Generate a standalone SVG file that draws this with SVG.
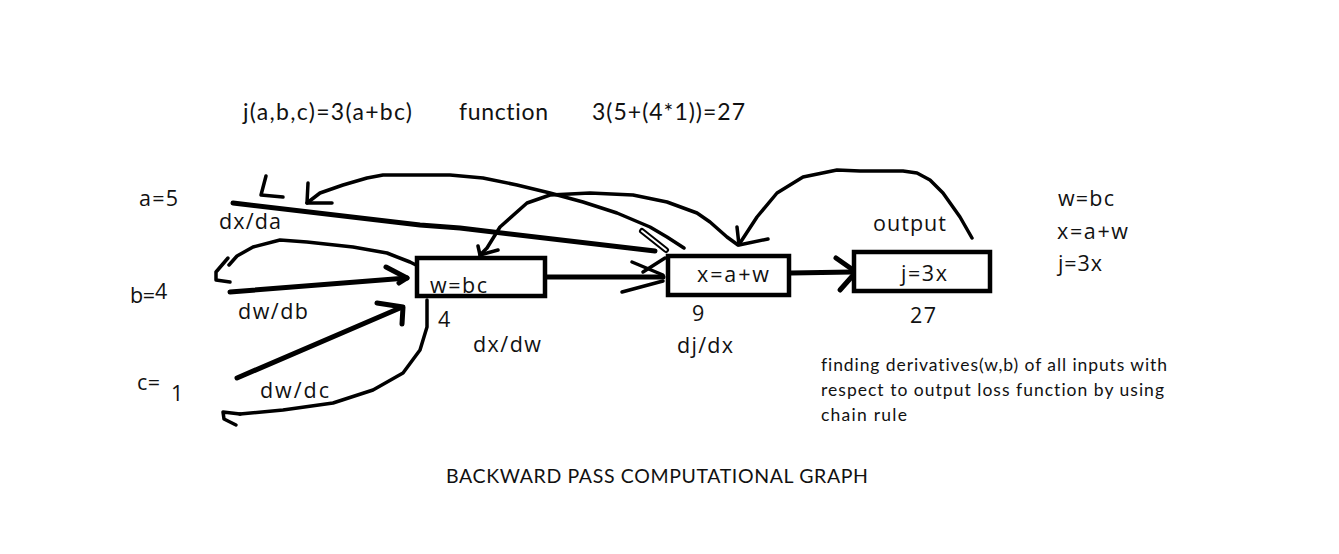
<svg xmlns="http://www.w3.org/2000/svg" width="1339" height="554" viewBox="0 0 1339 554">
<style>
.bg{fill:#ffffff}
.seg{font-family:"Open Sans","Noto Sans",sans-serif;font-size:21.5px;fill:#111}
.cal{font-family:Lato,"Open Sans",sans-serif;fill:#111;font-variant-ligatures:none}
.box{fill:#ffffff;stroke:#000;stroke-width:4.5}
.ln{fill:none;stroke:#000;stroke-width:5;stroke-linecap:round;stroke-linejoin:round}
.arc{fill:none;stroke:#000;stroke-width:3.5;stroke-linecap:round;stroke-linejoin:round}
</style>
<rect class="bg" x="0" y="0" width="1339" height="554"/>

<g id="header">
<text class="cal" x="243" y="120" font-size="23" textLength="169">j(a,b,c)=3(a+bc)</text>
<text class="cal" x="459" y="120" font-size="23" textLength="89">function</text>
<text class="cal" x="592" y="120" font-size="23" textLength="153">3(5+(4*1))=27</text>
</g>

<g id="connectors">
<!-- forward a -> x -->
<path class="ln" d="M233,203 L420,225 L460,228 L655,251"/>
<path class="arc" d="M266,176 L261,195 L283,197"/>
<!-- forward b -> w -->
<path class="ln" d="M230,292 L407,278"/>
<path class="ln" d="M386,267 L407,278 L399,283"/>
<!-- forward c -> w -->
<path class="ln" d="M237,378 L400,308"/>
<path class="ln" d="M377,303 L403,307 L402,324"/>
<!-- forward w -> x -->
<path class="ln" d="M545,277 L663,277"/>
<path class="arc" d="M632,262 L663,275"/>
<path class="arc" d="M622,292 L663,281"/>
<path class="arc" d="M643,272 L665,258"/>
<path d="M642,231 L666,250" fill="none" stroke="#000" stroke-width="6" stroke-linecap="round"/>
<path d="M642,231 L666,250" fill="none" stroke="#fff" stroke-width="2" stroke-linecap="round"/>
<!-- forward x -> j -->
<path class="ln" d="M791,273 L852,272"/>
<path class="ln" d="M836,258 L856,272 L840,290"/>
<!-- backward j -> x -->
<path class="arc" d="M972,238 L960,217 L943,193 L930,180 L917,173 L903,171 L860,171 L837,170 L803,177 L777,193 L757,217 L740,243"/>
<path class="arc" d="M737,227 L739,245 L768,239"/>
<!-- backward x -> w -->
<path class="arc" d="M738,245 L727,237 L710,222 L697,213 L667,202 L633,195 L590,193 L550,195 L527,203 L500,227 L487,248 L480,255"/>
<path class="arc" d="M478,246 L480,255 L498,250"/>
<!-- backward x -> a -->
<path class="arc" d="M684,248 L667,237 L650,227 L617,213 L583,202 L550,193 L517,185 L483,178 L450,175 L383,175 L367,178 L343,185 L320,193 L307,203"/>
<path class="arc" d="M308,183 L307,203 L332,203"/>
<!-- backward w -> b -->
<path class="arc" d="M418,266 L410,262 L387,253 L353,247 L307,242 L280,240 L253,247 L237,256 L229,265"/>
<path class="arc" d="M228,258 L216,272 L216,280 L230,282"/>
<!-- backward w -> c -->
<path class="arc" d="M427,300 L427,327 L420,350 L403,373 L373,390 L333,403 L283,410 L240,414"/>
<path class="arc" d="M240,414 L223,412 L224,419 L236,425"/>
</g>

<g id="node-a">
<text class="seg" x="139" y="206" textLength="39">a=5</text>
</g>
<g id="node-b">
<text class="seg" x="130" y="303" textLength="25">b=</text>
<text class="seg" x="155" y="299">4</text>
</g>
<g id="node-c">
<text class="seg" x="137" y="390" textLength="23">c=</text>
<text class="seg" x="171" y="401">1</text>
</g>

<g id="node-w">
<rect class="box" x="417" y="258" width="128" height="38"/>
<text class="seg" x="430" y="293" textLength="57">w=bc</text>
<text class="seg" x="438" y="327">4</text>
</g>
<g id="node-x">
<rect class="box" x="668" y="256" width="121" height="39"/>
<text class="seg" x="697" y="282" textLength="72">x=a+w</text>
<text class="seg" x="692" y="321">9</text>
</g>
<g id="node-j">
<rect class="box" x="854" y="252" width="136" height="39"/>
<text class="seg" x="901" y="281" textLength="46">j=3x</text>
<text class="seg" x="910" y="323" textLength="26">27</text>
<text class="seg" x="873" y="231" textLength="73">output</text>
</g>

<g id="edge-labels">
<text class="seg" x="219" y="229" textLength="62">dx/da</text>
<text class="seg" x="238" y="319" textLength="70">dw/db</text>
<text class="seg" x="260" y="398" textLength="69">dw/dc</text>
<text class="seg" x="473" y="352" textLength="68">dx/dw</text>
<text class="seg" x="677" y="353" textLength="56">dj/dx</text>
</g>

<g id="equations">
<text class="seg" x="1058" y="206" textLength="56">w=bc</text>
<text class="seg" x="1057" y="239" textLength="71">x=a+w</text>
<text class="seg" x="1058" y="271" textLength="44">j=3x</text>
</g>

<g id="note">
<text class="cal" x="821" y="371" font-size="17.5" textLength="346">finding derivatives(w,b) of all inputs with</text>
<text class="cal" x="821" y="396" font-size="17.5" textLength="343">respect to output  loss function by using</text>
<text class="cal" x="821" y="421" font-size="17.5" textLength="86">chain rule</text>
</g>

<g id="caption">
<text class="cal" x="446" y="483" font-size="19.5" textLength="422">BACKWARD PASS COMPUTATIONAL GRAPH</text>
</g>
</svg>
